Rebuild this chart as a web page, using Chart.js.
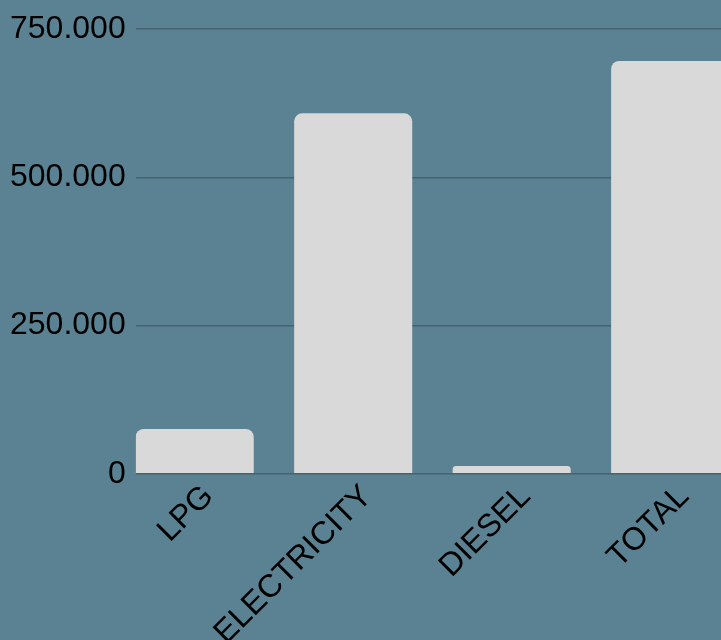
<!DOCTYPE html>
<html>
<head>
<meta charset="utf-8">
<script src="https://cdn.jsdelivr.net/npm/chart.js@4/dist/chart.umd.min.js"></script>
<style>
    html, body { margin: 0; padding: 0; background: #5a8293; overflow: hidden; }
    .chart-box { width: 772px; height: 648px; position: relative; }
</style>
</head>
<body>
<div class="chart-box"><canvas id="chart"></canvas></div>
<script>
const categories = ['LPG', 'ELECTRICITY', 'DIESEL', 'TOTAL'];
const consumption = [75500, 608000, 13000, 696500];
const yTicks = [0, 250000, 500000, 750000];

const formatNumber = (val) => String(val).replace(/\B(?=(\d{3})+(?!\d))/g, '.');

// bars sit on a numeric index axis so the first bar starts flush with the y axis
const points = consumption.map((v, i) => ({ x: i, y: v }));

const ctx = document.getElementById('chart').getContext('2d');

const myChart = new Chart(ctx, {
    type: 'bar',
    data: {
        datasets: [
            {
                label: '',
                data: points,
                backgroundColor: '#d9d9d9',
                borderRadius: 8,
                borderSkipped: 'start',
                barPercentage: 1,
                categoryPercentage: 0.745,
            },
        ],
    },
    options: {
        responsive: true,
        maintainAspectRatio: false,
        animation: false,
        layout: {
            padding: { top: 8, right: 2 },
        },
        plugins: {
            legend: { display: false },
            tooltip: { enabled: false },
        },
        scales: {
            x: {
                type: 'linear',
                offset: false,
                min: -0.3725,
                max: 3.63,
                afterBuildTicks: (axis) => {
                    axis.ticks = categories.map((c, i) => ({ value: i }));
                },
                grid: { display: false },
                border: { display: false },
                ticks: {
                    color: '#000',
                    autoSkip: false,
                    minRotation: 45,
                    maxRotation: 45,
                    padding: -4,
                    labelOffset: 14,
                    font: { family: '"Liberation Sans", Arial, sans-serif', size: 32 },
                    callback: function (val) {
                        return categories[val] ?? '';
                    },
                },
            },
            y: {
                min: 0,
                max: 750000,
                afterBuildTicks: (axis) => {
                    axis.ticks = yTicks.map((v) => ({ value: v }));
                },
                grid: {
                    color: '#46636f',
                    lineWidth: 1.5,
                    drawTicks: false,
                },
                border: { display: false },
                ticks: {
                    color: '#000',
                    padding: 10,
                    font: { family: '"Liberation Sans", Arial, sans-serif', size: 32 },
                    callback: function (val) {
                        return formatNumber(val);
                    },
                },
            },
        },
    },
});
</script>
</body>
</html>
